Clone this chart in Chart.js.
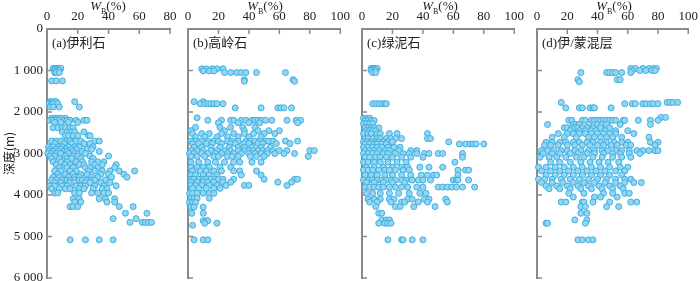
<!DOCTYPE html>
<html>
<head>
<meta charset="utf-8">
<script src="https://cdn.jsdelivr.net/npm/chart.js@4.4.0/dist/chart.umd.min.js"></script>
<style>
  html, body { margin: 0; padding: 0; background: #fff; overflow: hidden; }
  #wrap { position: relative; width: 700px; height: 281px; overflow: hidden; }
  canvas { position: absolute; top: 0; }
  .wb { position: absolute; top: -1px; font: 13px 'Liberation Serif', serif; color: #222; transform: translateX(-50%); white-space: nowrap; line-height: 13px; }
  .wb sub { font-size: 8px; }
  .tag { position: absolute; top: 35px; font: 13px 'Liberation Serif', 'Noto Sans CJK SC', serif; color: #222; white-space: nowrap; line-height: 15px; }
</style>
</head>
<body>
<div id="wrap">
  <canvas id="c0" width="182" height="300" style="left:0px"></canvas>
  <canvas id="c1" width="177" height="300" style="left:178px"></canvas>
  <canvas id="c2" width="177" height="300" style="left:352px"></canvas>
  <canvas id="c3" width="176" height="300" style="left:527px"></canvas>
  <div class="wb" style="left:108px"><i>W</i><sub>B</sub>(%)</div>
  <div class="wb" style="left:265px"><i>W</i><sub>B</sub>(%)</div>
  <div class="wb" style="left:440px"><i>W</i><sub>B</sub>(%)</div>
  <div class="wb" style="left:614px"><i>W</i><sub>B</sub>(%)</div>
  <div class="tag" style="left:52px">(a)伊利石</div>
  <div class="tag" style="left:193px">(b)高岭石</div>
  <div class="tag" style="left:367px">(c)绿泥石</div>
  <div class="tag" style="left:542px">(d)伊/蒙混层</div>
</div>
<script>
"use strict";
// rows: [depth (m), [W_B values (%) at that depth]]
const illiteRows = [
  [950, [4,5,6,7,8,9]], [1000, [5,6.5,8]], [1050, [5,6,8]], [1250, [3,6,10]],
  [1750, [2,3,5,6,18]], [1800, [1.5,3,4,7]], [1880, [2,4,8,21]],
  [2150, [3,5,7,9,12]], [2200, [2,4,6,8,11,13,15,19,24,26]], [2250, [5,9,14,20]],
  [2380, [4,7,10,12,15,17]], [2480, [10,13,16,18,24]], [2570, [12,14,17,20,27,28]],
  [2700, [3,6,9,13,15,19,22,31,34]], [2760, [5,11,16,24,28]],
  [2840, [1,4,8,10,14,18,21,30]], [2900, [2,6,9,12,16,19,26,29]],
  [2950, [1,4,7,11,13,17,23,34]], [3000, [0.5,3,6,9,14,18,25]],
  [3060, [2,5,12,17,20,28,40]], [3120, [3,8,13,16,22,30]],
  [3200, [4,9,13,19,23,29,33,37]], [3270, [6,12,15,21,24,31,36,45]],
  [3340, [8,13,17,25,28,33,44]], [3420, [5,9,15,19,27,31,36,41,47,57]],
  [3500, [7,12,17,22,26,35,40,50]], [3570, [4,8,14,18,21,29,33,42,52]],
  [3640, [3,6,10,13,15,18,21,23,26,29,31,38]],
  [3700, [5,9,15,18,25,28,35,41]], [3780, [2,5,10,13,19,22,25,31,37,45]],
  [3850, [3,8,12,15,21,24,30,36,39]], [3950, [5,7,18,21,29,33,37,40]],
  [4090, [17,21,34,38,44]], [4170, [18,22,39,44]], [4280, [15,17,20,47,56]],
  [4440, [51,65]], [4570, [43,58]], [4660, [54,62,64,66,68]], [5080, [15,25,34,43]]
];
const kaoliniteRows = [
  [960, [9,12,16,19,23]], [1010, [10,14,17]], [1050, [24,28,32,35,38,45,64]],
  [1220, [37,69]], [1260, [37,70]], [1750, [4,10]], [1800, [8,11,13,15,17,19,23]],
  [1900, [31,48,59,61,63,68]], [2140, [6]],
  [2200, [13,22,28,30,35,38,42,44,46,48,51,55,65,71,74]], [2260, [20,33,40,47,72]],
  [2370, [5,21,28,36,44]], [2450, [2,24,37,46,53,60]], [2520, [3,9,14,22,30,37,43,50,57]],
  [2600, [5,11,19,26,33,40,48]],
  [2700, [2,5,9,13,17,20,26,29,33,38,41,44,47,51,53,56,64,72]],
  [2760, [3,7,12,16,22,28,31,37,40,46,49,58,67]],
  [2850, [4,9,15,21,27,33,37,42,48,54]],
  [2930, [2,6,10,15,19,24,28,33,37,40,43,46,49,52,56,60,65,80,83]],
  [3000, [1,4,9,13,18,22,26,30,35,40,44,48,52,57,63,70]],
  [3070, [2,6,11,17,20,26,29,33,41,45,50,79]],
  [3210, [2,7,13,18,24,30,34,42,48]], [3330, [2,6,10,14,21,28]],
  [3420, [3,8,12,17,22,30,34,45]], [3520, [2,5,10,14,19,35,48]],
  [3620, [2,4,7,10,12,15,18,20,23,30,50,70,72]],
  [3690, [2,6,10,13,17,23,28,59,68]], [3770, [2,5,9,14,19,25,37,40,65]],
  [3840, [3,7,12,17,21]], [3960, [1,3,6,10,14,17]], [4080, [2,4,6,14]],
  [4180, [1,3,5]], [4290, [2,4,10]], [4440, [2.5,10]], [4620, [10,12,13]],
  [4680, [11,19]], [4730, [3]], [5080, [4,10,13]]
];
const chloriteRows = [
  [950, [6,7,8,9,10]], [1000, [6,8,9]], [1050, [7,9]], [1800, [7,9,11,13,15,16]],
  [2150, [1,3,5]], [2210, [2,4,6,8]], [2280, [1,3,5,7]], [2380, [2,4,6,8,11]],
  [2450, [3,5,7,9]], [2520, [1,4,6,10,12,18,23,43]],
  [2640, [2,4,7,10,12,16,19,22,26,43,45]], [2720, [1,3,6,9,11,14,17,20,57]],
  [2770, [2,5,8,10,13,16,64,68,71,73,75,80]],
  [2850, [1,4,7,10,13,17,21,25]],
  [2930, [2,5,8,11,15,18,24,32,36]],
  [3000, [1,4,7,10,14,17,22,27,31,36,41,44,50,53,66]],
  [3090, [2,5,9,12,16,20,26,32,40,66]],
  [3210, [1,4,8,12,17,23,29,61]],
  [3330, [3,8,14,20,26,30,38,44,53]],
  [3400, [1,4,7,11,15,18,22,27,31,63,68,70]],
  [3520, [2,6,10,15,20,26,32,39,43,47,49,63]],
  [3640, [1,4,7,10,13,16,19,22,26,29,33,37,40,45,60,62,63,70]],
  [3700, [3,8,14,20,28]],
  [3810, [2,5,8,11,14,18,22,26,30,36,40,50,53,56,59,62,66,74]],
  [3960, [3,7,12,18,24,31,38,42]],
  [4100, [4,8,12,18,21,30,33,41,44,55]], [4170, [5,10,19,26,28,37,43,56]],
  [4280, [9,22,25,34,48]], [4440, [11,13]], [4600, [13,16,18]],
  [4680, [11,15,17,19]], [5080, [17,26,27,33,40]]
];
const mixedRows = [
  [950, [62,65,70,74,77,79]], [1000, [63,68,72,76,78]], [1050, [29,46,48,50,52,56,62]],
  [1220, [27,53,55]], [1270, [28]], [1770, [16,86,88,90,93]],
  [1800, [58,63,65,70,72,75,77,80]], [1900, [19,28,30,35,37,38,49]], [2130, [82,85]],
  [2200, [21,23,30,32,36,38,40,42,44,46,48,50,52,57,58,67,75,80]],
  [2300, [7,24,26,28,34,40,43,46,55,75]], [2380, [18,20,23,25,27,30,33,37,42,48]],
  [2450, [22,28,32,36,39,45,52,60]], [2520, [14,20,24,28,32,36,40,44,48,52,64]],
  [2610, [10,18,26,34,38,42,46,50,56,74]],
  [2730, [6,10,15,19,24,28,33,37,42,46,51,56,60,75,80]],
  [2800, [5,9,14,20,25,30,35,40,44,49,53,59,62,78]],
  [2930, [3,7,11,16,20,25,29,34,38,43,47,52,56,61,66,70,74,78,80]],
  [3000, [4,10,15,22,27,33,38,44,50,55,61,68]],
  [3090, [2,8,13,19,26,31,37,43,50,56,62]],
  [3210, [9,15,22,29,35,41,47,54]],
  [3330, [1,6,12,18,24,30,36,42,48,55,60]],
  [3420, [3,9,15,21,27,33,39,45,52,58]],
  [3520, [6,12,18,24,30,36,42,48,56]],
  [3620, [1,5,10,16,22,28,34,40,46,52,58,62]],
  [3700, [3,10,17,24,31,38,45,52,58,64,69]],
  [3780, [6,13,20,27,34,41,48,55]],
  [3850, [8,15,22,29,36,43,50,57]],
  [3960, [21,31,44,50,58,61]], [4050, [24,38,42,53]],
  [4170, [16,19,30,31,37,48,62,66]], [4280, [29,32,46,54]],
  [4440, [29,33]], [4600, [25,33]], [4680, [6,7,32]], [5080, [27,30,34,37]]
];
const panelRows = [illiteRows, kaoliniteRows, chloriteRows, mixedRows];
const xMaxes = [80, 100, 100, 100];
const depthMax = 6000;
const depthTitle = '深度(m)';

const axisColor = '#8a8a8a';
const textColor = '#222';
Chart.defaults.font.family = "'Liberation Serif', serif";
Chart.defaults.font.size = 13;
Chart.defaults.color = textColor;

// ticks drawn inwards from the left and top axes
const inwardTicks = {
  id: 'inwardTicks',
  beforeDatasetsDraw(chart) {
    const {ctx, chartArea, scales} = chart;
    ctx.save();
    ctx.strokeStyle = axisColor;
    ctx.lineWidth = 1.5;
    ctx.beginPath();
    scales.x.ticks.forEach(t => {
      const px = scales.x.getPixelForValue(t.value);
      ctx.moveTo(px, chartArea.top);
      ctx.lineTo(px, chartArea.top + 5);
    });
    scales.y.ticks.forEach(t => {
      const py = scales.y.getPixelForValue(t.value);
      ctx.moveTo(chartArea.left, py);
      ctx.lineTo(chartArea.left + 5, py);
    });
    ctx.stroke();
    ctx.restore();
  }
};

function fmtDepth(v) {
  return String(v).replace(/\B(?=(\d{3})+(?!\d))/g, ' ');
}

function toPoints(rows) {
  return rows.flatMap(([d, vals]) => vals.map(v => ({x: v, y: d})));
}

function makePanel(i) {
  const first = i === 0;
  new Chart(document.getElementById('c' + i), {
    type: 'scatter',
    data: {
      datasets: [{
        data: toPoints(panelRows[i]),
        backgroundColor: '#93d5f2',
        borderColor: '#3cafe0',
        borderWidth: 1,
        pointRadius: 3,
        clip: false
      }]
    },
    plugins: [inwardTicks],
    options: {
      responsive: false,
      animation: false,
      devicePixelRatio: 1,
      layout: {padding: {left: 0, top: 0, right: 12, bottom: 22}},
      plugins: {legend: {display: false}, tooltip: {enabled: false}},
      scales: {
        x: {
          type: 'linear',
          position: 'top',
          min: 0,
          max: xMaxes[i],
          grid: {display: true, drawOnChartArea: false, drawTicks: false},
          border: {display: true, color: axisColor, width: 2},
          ticks: {stepSize: 20, padding: 5, maxRotation: 0, autoSkip: false, color: textColor},
          afterFit: s => { s.height = 29; }
        },
        y: {
          type: 'linear',
          reverse: true,
          min: 0,
          max: depthMax,
          grid: {display: true, drawOnChartArea: false, drawTicks: false},
          border: {display: true, color: axisColor, width: 2},
          ticks: {display: first, stepSize: 1000, padding: 4, color: textColor, callback: fmtDepth},
          title: {
            display: first,
            text: depthTitle,
            color: textColor,
            padding: {top: 2, bottom: 0},
            font: {family: "'Noto Sans CJK SC', sans-serif", size: 12}
          },
          afterFit: s => { s.width = first ? 47 : 10; }
        }
      }
    }
  });
}

[0, 1, 2, 3].forEach(makePanel);
</script>
</body>
</html>
